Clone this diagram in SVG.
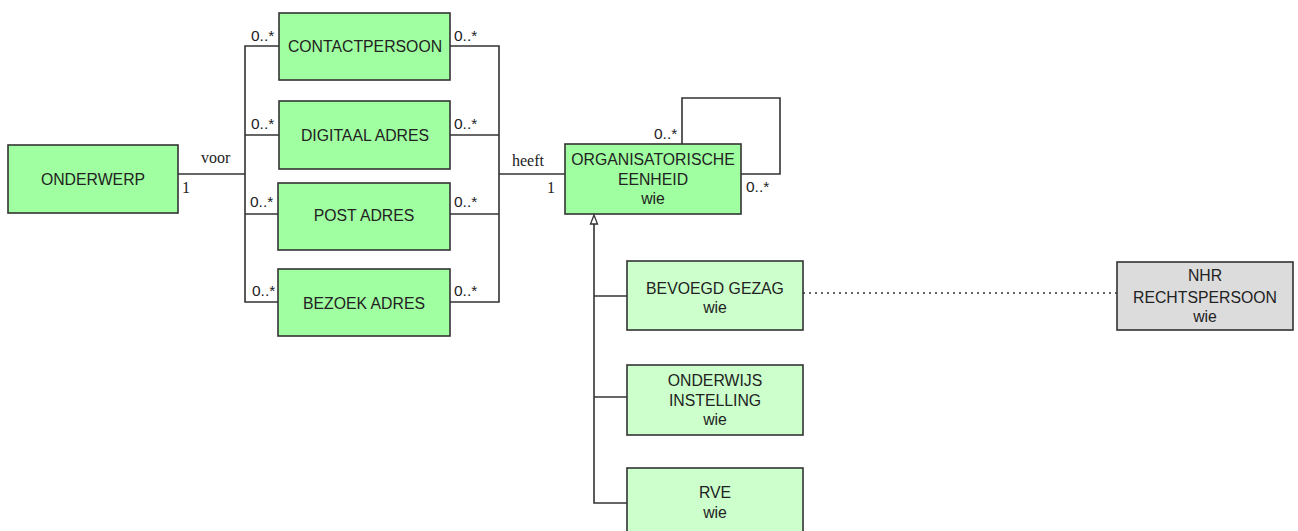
<svg xmlns="http://www.w3.org/2000/svg" width="1298" height="531" viewBox="0 0 1298 531">
<style>
.bg{fill:#ffffff}
.box{stroke:#333333;stroke-width:1.6}
.g1{fill:#a0ffa0}
.g2{fill:#ccffcc}
.gr{fill:#dcdcdc}
.t{font-family:"Liberation Sans",Arial,sans-serif;font-size:15.8px;fill:#222222;text-anchor:middle}
.m{font-family:"Liberation Sans",Arial,sans-serif;font-size:15.5px;fill:#222222}
.s{font-family:"Liberation Serif","Times New Roman",serif;font-size:16px;fill:#222222}
.ln{fill:none;stroke:#333333;stroke-width:1.6}
.dot{fill:none;stroke:#333333;stroke-width:1.4;stroke-dasharray:2,4}
</style>
<rect class="bg" x="0" y="0" width="1298" height="531"/>
<g id="connectors">
<polyline class="ln" points="178,174 245,174"/>
<polyline class="ln" points="279,46 245,46 245,302 278,302"/>
<line class="ln" x1="245" y1="135" x2="279" y2="135"/>
<line class="ln" x1="245" y1="214" x2="278" y2="214"/>
<polyline class="ln" points="450,46 499,46 499,302 450,302"/>
<line class="ln" x1="450" y1="135" x2="499" y2="135"/>
<line class="ln" x1="450" y1="214" x2="499" y2="214"/>
<line class="ln" x1="499" y1="174" x2="565" y2="174"/>
<polyline class="ln" points="682,144 682,98 780,98 780,174 741,174"/>
<polyline class="ln" points="594,224 594,503 627,503"/>
<line class="ln" x1="594" y1="296" x2="627" y2="296"/>
<line class="ln" x1="594" y1="397" x2="627" y2="397"/>
<polygon points="594,215 590.5,224 597.5,224" fill="#ffffff" stroke="#333333" stroke-width="1.3"/>
<line class="dot" x1="803" y1="293" x2="1117" y2="293"/>
<text class="s" x="201" y="163">voor</text>
<text class="s" x="182" y="193">1</text>
<text class="s" x="512" y="166">heeft</text>
<text class="s" x="547" y="193">1</text>
<text class="m" x="251" y="41">0..*</text>
<text class="m" x="454" y="41">0..*</text>
<text class="m" x="251" y="129">0..*</text>
<text class="m" x="454" y="129">0..*</text>
<text class="m" x="250" y="207">0..*</text>
<text class="m" x="454" y="207">0..*</text>
<text class="m" x="252" y="296">0..*</text>
<text class="m" x="454" y="296">0..*</text>
<text class="m" x="654" y="139">0..*</text>
<text class="m" x="746" y="192">0..*</text>
</g>
<g id="onderwerp">
<rect class="box g1" x="8" y="145" width="170" height="68"/>
<text class="t" x="93" y="185">ONDERWERP</text>
</g>
<g id="contactpersoon">
<rect class="box g1" x="279" y="13" width="171" height="67"/>
<text class="t" x="365" y="52">CONTACTPERSOON</text>
</g>
<g id="digitaal-adres">
<rect class="box g1" x="279" y="101" width="171" height="68"/>
<text class="t" x="365" y="141">DIGITAAL ADRES</text>
</g>
<g id="post-adres">
<rect class="box g1" x="278" y="183" width="172" height="67"/>
<text class="t" x="364" y="221">POST ADRES</text>
</g>
<g id="bezoek-adres">
<rect class="box g1" x="278" y="269" width="172" height="67"/>
<text class="t" x="364" y="309">BEZOEK ADRES</text>
</g>
<g id="organisatorische-eenheid">
<rect class="box g1" x="565" y="144" width="176" height="70"/>
<text class="t" x="653" y="165">ORGANISATORISCHE</text>
<text class="t" x="653" y="185">EENHEID</text>
<text class="t" x="653" y="204">wie</text>
</g>
<g id="bevoegd-gezag">
<rect class="box g2" x="627" y="261" width="176" height="69"/>
<text class="t" x="715" y="294">BEVOEGD GEZAG</text>
<text class="t" x="715" y="313">wie</text>
</g>
<g id="onderwijs-instelling">
<rect class="box g2" x="627" y="365" width="176" height="70"/>
<text class="t" x="715" y="386">ONDERWIJS</text>
<text class="t" x="715" y="406">INSTELLING</text>
<text class="t" x="715" y="425">wie</text>
</g>
<g id="rve">
<rect class="box g2" x="627" y="468" width="176" height="70"/>
<text class="t" x="715" y="498">RVE</text>
<text class="t" x="715" y="518">wie</text>
</g>
<g id="nhr-rechtspersoon">
<rect class="box gr" x="1117" y="262" width="176" height="68"/>
<text class="t" x="1205" y="281">NHR</text>
<text class="t" x="1205" y="303">RECHTSPERSOON</text>
<text class="t" x="1205" y="322">wie</text>
</g>
</svg>
